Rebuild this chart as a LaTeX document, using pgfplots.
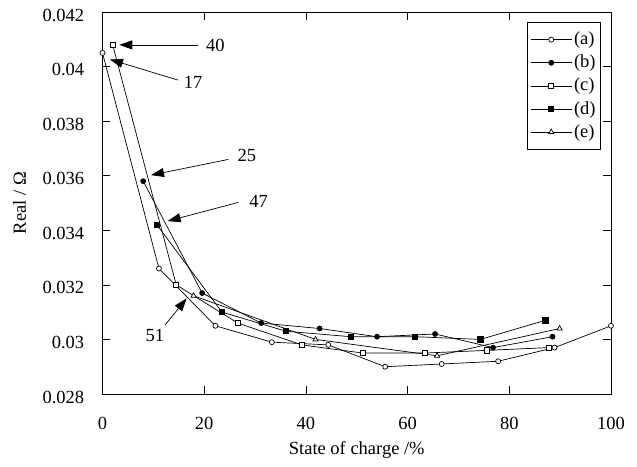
\documentclass[border=0pt]{standalone}
\usepackage{fontspec}
\setmainfont{Liberation Serif}
\usepackage{pgfplots}
\pgfplotsset{compat=1.18}
\usetikzlibrary{arrows.meta}

% Real part of the impedance against state of charge, five cells (a)-(e)
\pgfplotstableread{
x y
0    0.0405
11.1 0.0326
22.2 0.0305
33.3 0.0299
44.4 0.0298
55.6 0.0290
66.7 0.0291
77.8 0.0292
88.9 0.0297
100  0.0305
}\seriesA
\pgfplotstableread{
x y
8.0  0.0358
19.6 0.0317
31.2 0.0306
42.7 0.0304
54.0 0.0301
65.4 0.0302
76.8 0.0297
88.5 0.0301
}\seriesB
\pgfplotstableread{
x y
2.0  0.0408
14.5 0.0320
26.6 0.0306
39.2 0.0298
51.2 0.0295
63.4 0.0295
75.6 0.0296
87.7 0.0297
}\seriesC
\pgfplotstableread{
x y
10.7 0.0342
23.5 0.0310
36.1 0.0303
48.8 0.0301
61.5 0.0301
74.3 0.0300
87.1 0.0307
}\seriesD
\pgfplotstableread{
x y
17.9 0.0316
41.9 0.0300
65.8 0.0294
89.9 0.0304
}\seriesE

\begin{document}
\fontsize{18.5}{22}\selectfont
\begin{tikzpicture}
\useasboundingbox (-102.5pt,-72pt) rectangle (534.5pt,394pt);
\begin{axis}[
  at={(0pt,0pt)}, anchor=south west,
  scale only axis,
  width=508.5pt, height=382pt,
  xmin=0, xmax=100, ymin=0.028, ymax=0.042,
  xtick={0,20,40,60,80,100},
  ytick={0.028,0.030,0.032,0.034,0.036,0.038,0.040,0.042},
  scaled y ticks=false,
  /pgf/number format/assume math mode=true,
  yticklabel style={/pgf/number format/fixed, /pgf/number format/precision=3, xshift=-12pt, yshift=-3pt},
  xticklabel style={yshift=-17pt},
  tick align=inside,
  major tick length=8pt,
  axis line style={line width=0.7pt},
  every tick/.style={line width=0.7pt, black},
  xlabel={State of charge /\%},
  ylabel={Real / Ω},
  xlabel style={yshift=1pt},
  ylabel style={yshift=4pt},
  every axis plot/.append style={black, line width=0.7pt, mark options={solid, line width=0.6pt}},
  legend style={at={(axis description cs:1,1)}, anchor=north east,
    xshift=-10pt, yshift=-10.5pt, draw=black, line width=0.7pt,
    row sep=3.5pt, inner xsep=3pt, inner ysep=7pt,
    font=\fontsize{18.5}{22}\selectfont},
  legend cell align=left,
  legend image code/.code={%
    \draw[mark repeat=2,mark phase=2,#1] plot coordinates {(0pt,0pt) (20.5pt,0pt) (41pt,0pt)};},
]
\addplot[mark=*, mark size=2.5pt, mark options={fill=white}] table {\seriesA};
\addlegendentry{(a)}
\addplot[mark=*, mark size=2.5pt, mark options={fill=black}] table {\seriesB};
\addlegendentry{(b)}
\addplot[mark=square*, mark size=2.6pt, mark options={fill=white}] table {\seriesC};
\addlegendentry{(c)}
\addplot[mark=square*, mark size=2.6pt, mark options={fill=black}] table {\seriesD};
\addlegendentry{(d)}
\addplot[mark=triangle*, mark size=3pt, mark options={fill=white}] table {\seriesE};
\addlegendentry{(e)}

% labelled arrows
\begin{scope}[line width=0.7pt, -{Triangle[length=13pt,width=9pt]}]
\draw (axis cs:18.84,0.040795) -- (axis cs:3.30,0.040795);
\draw (axis cs:14.9,0.039502) -- (axis cs:1.47,0.04026);
\draw (axis cs:24.74,0.036597) -- (axis cs:9.54,0.036022);
\draw (axis cs:26.7,0.035022) -- (axis cs:12.82,0.034337);
\draw (axis cs:12.29,0.030527) -- (axis cs:16.56,0.031505);
\end{scope}
\node at (axis cs:22.2,0.040784) {40};
\node at (axis cs:17.8,0.03943) {17};
\node at (axis cs:28.4,0.036755) {25};
\node at (axis cs:30.7,0.035044) {47};
\node at (axis cs:10.3,0.030161) {51};
\end{axis}
\end{tikzpicture}
\end{document}
